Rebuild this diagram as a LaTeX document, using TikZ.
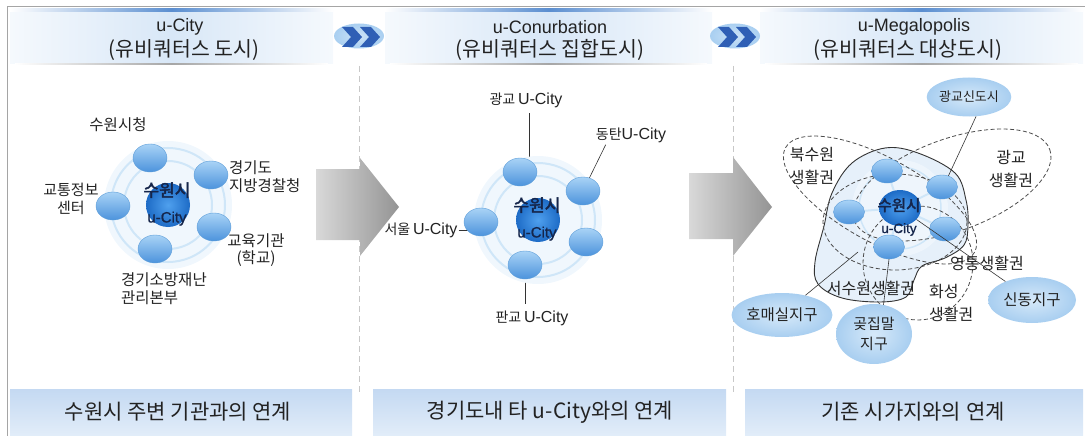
\documentclass[tikz,border=0pt]{standalone}
\usepackage{fontspec}
\setmainfont{Liberation Sans}
\newfontfamily\kr{Noto Sans CJK KR}
\newfontfamily\krb[FakeBold=2.5]{Noto Sans CJK KR}
\newfontfamily\latb[FakeBold=1]{Liberation Sans}
\usetikzlibrary{shapes.geometric,backgrounds,calc}
\newcommand\myfs[1]{\fontsize{#1}{#1}\selectfont}
\definecolor{satT}{HTML}{A9D3F6}
\definecolor{satB}{HTML}{4C93DC}
\definecolor{satE}{HTML}{5E9ED9}
\definecolor{ctrI}{HTML}{4FA0EE}
\definecolor{ctrO}{HTML}{1D6BC6}
\definecolor{ringC}{HTML}{CFE6F8}
\definecolor{haloC}{HTML}{F0F7FD}
\definecolor{bubI}{HTML}{D6E9F9}
\definecolor{bubO}{HTML}{A8CEF0}
\definecolor{txt}{HTML}{222222}
\definecolor{ctrtxt}{HTML}{15254A}
\definecolor{hdrM}{HTML}{D8E7F7}
\definecolor{hdrE}{HTML}{F5F9FD}
\definecolor{barC}{HTML}{5A8ED0}
\definecolor{botT}{HTML}{C4D9F2}
\definecolor{botB}{HTML}{E2EDF9}
\definecolor{chevF}{HTML}{A9CFF1}
\definecolor{chevD}{HTML}{2F5FB5}
\definecolor{frameC}{HTML}{A5A5A5}
\definecolor{sepC}{HTML}{C8C8C8}
\definecolor{shapeF}{HTML}{E6F0FA}
\begin{document}
\begin{tikzpicture}[x=1pt,y=-1pt,
  sat/.style={ellipse, minimum width=34pt, minimum height=28pt, inner sep=0pt,
    top color=satT, bottom color=satB, draw=satE, line width=0.4pt},
  sats/.style={sat, minimum width=31pt, minimum height=24pt},
  ctr/.style={circle, minimum size=44pt, inner sep=0pt, inner color=ctrI, outer color=ctrO},
  ctrs/.style={ellipse, minimum width=42pt, minimum height=36pt, inner sep=0pt, inner color=ctrI, outer color=ctrO},
  bub/.style={ellipse, inner sep=0pt, inner color=bubI, outer color=bubO, text=txt},
  lbl/.style={inner sep=0pt, text=txt},
  ctrlbl/.style={inner sep=0pt, text=ctrtxt, align=center},
  conn/.style={draw=black!80, line width=0.6pt},
  ring/.style={draw=ringC, line width=2pt},
  dashe/.style={draw=black!70, line width=0.8pt, dash pattern=on 4pt off 2.5pt},
  hdr/.style={draw=none, left color=hdrE, right color=hdrE, middle color=hdrM},
  topbar/.style={draw=none, left color=white, right color=white, middle color=barC},
  botbox/.style={draw=none, top color=botT, bottom color=botB},
  chev/.style={ellipse, minimum width=50pt, minimum height=25pt, inner sep=0pt, inner color=chevF!60, outer color=chevF},
  grayarrow/.style={left color=black!15, right color=black!42, draw=none}
]
\useasboundingbox (0,0) rectangle (1085,436);

% ---------- frame ----------
\draw[frameC, line width=1pt] (7,436) -- (7,7) -- (1085,7);

% ---------- headers ----------
\foreach \a/\b in {10/333, 385/712, 760/1083}{
  \shade[hdr] (\a,11) rectangle (\b,64);
  \shade[topbar] (\a,9) rectangle (\b,12);
  \shade[left color=white, right color=white, middle color=black!35] (\a+5,63.5) rectangle (\b-5,64.5);
}
\node[lbl, font=\myfs{18}] (h1a) at (180,27) {u-City};
\node[lbl, font=\kr\myfs{20.5}] (h1b) at (184,50) {(유비쿼터스 도시)};
\node[lbl, font=\myfs{18}] (h2a) at (550,27) {u-Conurbation};
\node[lbl, font=\kr\myfs{20.5}] (h2b) at (550,50) {(유비쿼터스 집합도시)};
\node[lbl, font=\myfs{18}] (h3a) at (914,27) {u-Megalopolis};
\node[lbl, font=\kr\myfs{20.5}] (h3b) at (908,50) {(유비쿼터스 대상도시)};

% separators
\draw[sepC, line width=0.8pt, dash pattern=on 6pt off 4pt] (359,66) -- (359,392);
\draw[sepC, line width=0.8pt, dash pattern=on 6pt off 4pt] (733,66) -- (733,392);

% chevrons
\foreach \cx in {359,735}{
  \node[chev] at (\cx,36) {};
  \fill[chevD] (\cx-17,27) -- (\cx-6,27) -- (\cx+3,37) -- (\cx-6,47) -- (\cx-17,47) -- (\cx-8,37) -- cycle;
  \fill[chevD] (\cx+1,27) -- (\cx+12,27) -- (\cx+21,37) -- (\cx+12,47) -- (\cx+1,47) -- (\cx+10,37) -- cycle;
}

% big gray arrows
\shade[grayarrow] (316,169) -- (360,169) -- (360,158) -- (399,207) -- (360,256) -- (360,240) -- (316,240) -- cycle;
\shade[grayarrow] (689,173) -- (733,173) -- (733,157) -- (772,207) -- (733,256) -- (733,239) -- (689,239) -- cycle;

% bottom boxes
\shade[botbox] (10,389) rectangle (352,436);
\shade[botbox] (373,389) rectangle (726,436);
\shade[botbox] (745,389) rectangle (1083,436);
\node[lbl, font=\kr\myfs{21}] (b1) at (178,412) {수원시 주변 기관과의 연계};
\node[lbl, font=\kr\myfs{21}] (b2) at (550,412) {경기도내 타 u-City와의 연계};
\node[lbl, font=\kr\myfs{21}] (b3) at (913,412) {기존 시가지와의 연계};

% ================= diagram 1 =================
\coordinate (o1) at (168,205);
\fill[haloC] (o1) circle (64);
\draw[ring] (o1) circle (44);
\draw[ring] (o1) circle (57);
\node[sat] (t1) at (150,158) {};
\node[sat] (r1) at (211,175) {};
\node[sat] (l1) at (113,206) {};
\node[sat] (s1) at (214,227) {};
\node[sat] (u1) at (155,249) {};
\node[ctr] (c1) at (o1) {};
\begin{pgfonlayer}{background}
  \foreach \n in {t1,r1,l1,s1,u1} \draw[ring, line width=2.5pt] (o1) -- (\n.center);
\end{pgfonlayer}
\node[ctrlbl, font=\fontsize{17}{26}\selectfont] (c1t) at (167,204) {{\krb\myfs{17}수원시}\\{\latb\myfs{15}u-City}};

\node[lbl, font=\kr\myfs{15.5}] (a1) at (118,125) {수원시청};
\node[lbl, font=\kr\fontsize{15.5}{18}\selectfont, align=left, anchor=west] (a2) at (229,177) {경기도\\지방경찰청};
\node[lbl, font=\kr\fontsize{15}{18}\selectfont, align=center] (a3) at (71,199) {교통정보\\센터};
\node[lbl, font=\kr\fontsize{15.5}{17}\selectfont, align=center] (a4) at (256,250) {교육기관\\(학교)};
\node[lbl, font=\kr\fontsize{15.5}{18}\selectfont, align=left, anchor=west] (a5) at (121,289) {경기소방재난\\관리본부};

% ================= diagram 2 =================
\coordinate (o2) at (538,220);
\fill[haloC] (o2) circle (64);
\draw[ring] (o2) circle (44);
\draw[ring] (o2) circle (57);
\node[sat] (t2) at (520,172) {};
\node[sat] (r2) at (583,191) {};
\node[sat] (l2) at (481,222) {};
\node[sat] (s2) at (586,242) {};
\node[sat] (u2) at (525,265) {};
\node[ctr] (c2) at (o2) {};
\node[ctrlbl, font=\fontsize{17}{26}\selectfont] (c2t) at (537,219) {{\krb\myfs{17}수원시}\\{\latb\myfs{15}u-City}};

\node[lbl] (m1) at (526,100) {{\kr\myfs{14}광교} {\myfs{16}U-City}};
\node[lbl] (m2) at (631,135) {{\kr\myfs{14}동탄}{\myfs{16}U-City}};
\node[lbl] (m3) at (421,230) {{\kr\myfs{14}서울} {\myfs{16}U-City}};
\node[lbl] (m4) at (532,318) {{\kr\myfs{14}판교} {\myfs{16}U-City}};
\begin{pgfonlayer}{background}
  \foreach \n in {t2,r2,l2,s2,u2} \draw[ring, line width=2.5pt] (o2) -- (\n.center);
  \draw[conn] ([xshift=3pt]m1.south |- 0,113) coordinate (m1e) -- (m1e |- t2.center);
  \draw[conn] ([xshift=10pt,yshift=-2pt]m2.south west) -- (r2.center);
  \draw[conn] ([xshift=1pt]m3.east) -- (m3.east -| l2.center);
  \draw[conn] (u2.center) -- (u2.center |- 0,304);
\end{pgfonlayer}

% ================= diagram 3 =================
\coordinate (o3) at (900,208);
\filldraw[fill=shapeF, draw=black!80, line width=0.9pt]
  plot[smooth cycle, tension=0.6] coordinates {(885,148) (918,153) (955,173) (966,200) (968,225) (964,245) (945,258) (922,266) (914,280) (906,297) (880,302) (842,298) (818,284) (815,262) (824,226) (832,193) (852,163)};
\fill[haloC, opacity=0.8] (o3) circle (48);
\draw[ring, line width=1.5pt] (o3) circle (41);
\foreach \p in {(887,171),(942,187),(849,212),(945,229),(889,247)}
  \draw[ring, line width=2pt] (o3) -- \p;
% dashed living-zone ellipses
\draw[dashe, rotate around={-29:(880,200)}] (880,200) ellipse [x radius=108, y radius=42];
\draw[dashe, rotate around={20:(952,185)}] (952,185) ellipse [x radius=104, y radius=46];
\draw[dashe] (895,222) ellipse [x radius=72, y radius=48];
\draw[dashe] (918,263) ellipse [x radius=55, y radius=57];

\node[sats] (t3) at (887,171) {};
\node[sats] (r3) at (942,187) {};
\node[sats] (l3) at (849,212) {};
\node[sats] (s3) at (945,229) {};
\node[sats] (u3) at (889,247) {};
\node[ctrs] (c3) at (o3) {};
\node[ctrlbl, font=\fontsize{15}{22}\selectfont] (c3t) at (899,217) {{\krb\myfs{15.5}수원시}\\{\latb\myfs{13.5}u-City}};

\node[bub, minimum width=72pt, minimum height=39pt, font=\kr\myfs{13}] (gk) at (969,97) {광교신도시};
\node[bub, minimum width=88pt, minimum height=46pt, font=\kr\myfs{15.5}] (sd) at (1032,300) {신동지구};
\node[bub, minimum width=96pt, minimum height=44pt, font=\kr\myfs{15.5}] (hm) at (782,315) {호매실지구};
\node[bub, minimum width=76pt, minimum height=60pt, font=\kr\fontsize{15}{20}\selectfont, align=center] (gj) at (874,334) {곶집말\\지구};

\node[lbl, font=\kr\fontsize{16}{23}\selectfont, align=center] (z1) at (812,166) {북수원\\생활권};
\node[lbl, font=\kr\fontsize{16}{23}\selectfont, align=center] (z2) at (1011,169) {광교\\생활권};
\node[lbl, font=\kr\myfs{16}] (z3) at (987,263) {영통생활권};
\node[lbl, font=\kr\myfs{16}] (z4) at (871,288) {서수원생활권};
\node[lbl, font=\kr\fontsize{16}{23}\selectfont, align=left, anchor=west] (z5) at (929,303) {화성\\생활권};

\coordinate (hmEnd) at (858,252);
\draw[conn] (gk.-70) -- (r3.60);
\draw[conn] (sd) -- (c3);
\draw[conn] (hm.40) -- (hmEnd);
\draw[conn] (gj.72) -- (u3.south);
\end{tikzpicture}
\end{document}
